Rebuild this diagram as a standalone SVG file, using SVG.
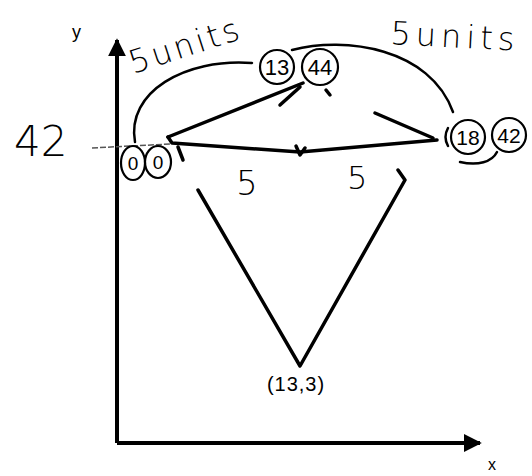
<svg xmlns="http://www.w3.org/2000/svg" width="532" height="476" viewBox="0 0 532 476">
<style>
.ax{stroke:#000;stroke-width:4;fill:none}
.ln{stroke:#000;stroke-width:3.5;fill:none;stroke-linecap:round;stroke-linejoin:round}
.arc{stroke:#000;stroke-width:2.5;fill:none;stroke-linecap:round}
.cir{stroke:#000;stroke-width:2.2;fill:none}
.t{font-family:"Liberation Sans",Arial,sans-serif;fill:#000}
.hw{font-family:"DejaVu Sans","Liberation Sans",sans-serif;font-weight:300;fill:#000}
</style>
<defs>
<marker id="ah" viewBox="0 0 10 10" refX="9" refY="5" markerWidth="4.5" markerHeight="4.5" orient="auto-start-reverse">
<path d="M0,0 L10,5 L0,10 z" fill="#000"/>
</marker>
</defs>
<rect width="532" height="476" fill="#fff"/>
<g id="axes">
<line class="ax" x1="117" y1="443" x2="117" y2="40" marker-end="url(#ah)"/>
<line class="ax" x1="117" y1="443" x2="480" y2="443" marker-end="url(#ah)"/>
<text class="t" x="72" y="38" font-size="18">y</text>
<text class="t" x="488" y="470" font-size="16">x</text>
<text class="hw" x="14" y="156" font-size="42">42</text>
<line x1="92" y1="148" x2="170" y2="144" stroke="#555" stroke-width="1.5" stroke-dasharray="6,2"/>
</g>
<g id="connectors">
<path class="ln" d="M168,137 L303,83"/>
<path class="ln" d="M280,105 L300,87"/>
<path class="ln" d="M168,137 L172,143 L300,152 L437,140"/>
<path class="ln" d="M178,147 L183,160"/>
<path class="ln" d="M296,146 L300,155 L305,148"/>
<path class="ln" d="M375,113 L433,138"/>
<path class="ln" d="M198,190 L300,366 L405,180 L398,170"/>
<path class="arc" d="M135,142 C126,92 185,58 252,63"/>
<path class="arc" d="M292,50 C345,36 430,48 453,112"/>
<path class="arc" d="M460,162 C478,166 492,162 497,152"/>
<path class="ln" d="M326,90 L330,95" stroke-width="3"/>
</g>
<g id="origin">
<ellipse class="cir" cx="133" cy="163" rx="12" ry="17"/>
<ellipse class="cir" cx="158" cy="162" rx="13" ry="16"/>
<text class="t" x="133" y="170" font-size="19" text-anchor="middle">0</text>
<text class="t" x="158" y="169" font-size="19" text-anchor="middle">0</text>
</g>
<g id="top-point">
<circle class="cir" cx="277" cy="67" r="17"/>
<circle class="cir" cx="320" cy="67" r="18"/>
<text class="t" x="277" y="75" font-size="22" text-anchor="middle">13</text>
<text class="t" x="320" y="75" font-size="22" text-anchor="middle">44</text>
</g>
<g id="right-point">
<circle class="cir" cx="468" cy="137" r="17"/>
<circle class="cir" cx="509" cy="135" r="17"/>
<text class="t" x="468" y="145" font-size="21" text-anchor="middle">18</text>
<text class="t" x="509" y="143" font-size="21" text-anchor="middle">42</text>
<path class="arc" d="M448,128 Q443,137 448,146" stroke-width="1.5"/>
</g>
<g id="bottom-point">
<text class="t" x="296" y="391" font-size="20" text-anchor="middle" letter-spacing="1" fill="#222">(13,3)</text>
</g>
<g id="labels">
<text class="hw" x="133" y="74" font-size="32" letter-spacing="3" transform="rotate(-18 133 74)">5units</text>
<text class="hw" x="390" y="44" font-size="32" letter-spacing="5" transform="rotate(3 390 44)">5units</text>
<text class="hw" x="236" y="195" font-size="34">5</text>
<text class="hw" x="347" y="189" font-size="32">5</text>
</g>
</svg>
